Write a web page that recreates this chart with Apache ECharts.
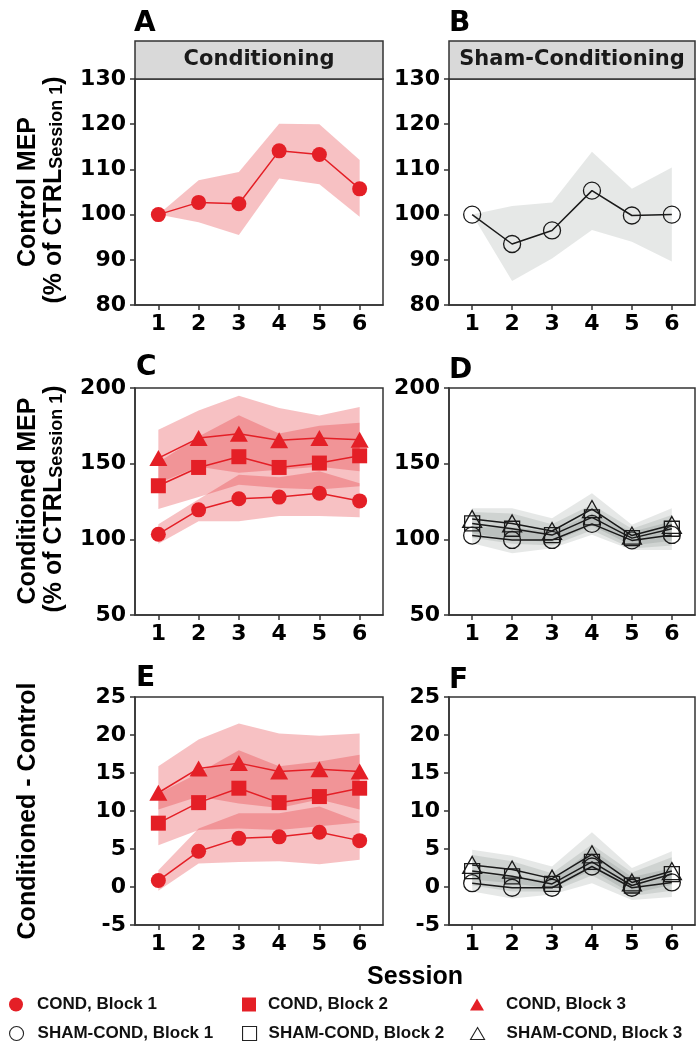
<!DOCTYPE html>
<html>
<head>
<meta charset="utf-8">
<script src="https://cdn.jsdelivr.net/npm/echarts@6.0.0/dist/echarts.min.js"></script>
<style>
html, body { margin: 0; padding: 0; background: #fff; }
#chart { width: 696px; height: 1046px; }
</style>
</head>
<body>
<div id="chart"></div>
<script>
// sessions on the x axis
const sessions = [1, 2, 3, 4, 5, 6];

// A: control MEP, conditioning
const condCtrl   = [100, 102.7, 102.4, 114.1, 113.3, 105.7];
const condCtrlLo = [100, 98.3, 95.5, 108.0, 106.7, 99.5];
const condCtrlHi = [100, 107.6, 109.4, 120.1, 120.0, 112.1];

// B: control MEP, sham
const shamCtrl   = [100, 93.5, 96.5, 105.3, 99.8, 100.0];
const shamCtrlLo = [100, 85.3, 90.3, 96.6, 94.0, 89.6];
const shamCtrlHi = [100, 101.9, 102.7, 113.9, 105.7, 110.4];

// C: conditioned MEP, conditioning (blocks 1-3)
const condMep1   = [103.4, 119.5, 126.8, 127.9, 130.5, 125.4];
const condMep1Lo = [97, 112, 112, 115.5, 115.5, 114.6];
const condMep1Hi = [110, 126.5, 142.7, 141, 145, 137];
const condMep2   = [135.4, 147.5, 154.6, 147.5, 150.4, 155.2];
const condMep2Lo = [120, 128, 136, 134, 133, 135];
const condMep2Hi = [151, 168, 182, 170, 175, 177];
const condMep3   = [153.7, 166.9, 169.8, 165.4, 166.9, 165.8];
const condMep3Lo = [137, 148, 144, 146, 148, 145];
const condMep3Hi = [172.4, 185.2, 194.9, 186.8, 181.9, 187.4];

// D: conditioned MEP, sham
const shamMep1   = [102.5, 99.6, 99.6, 110.2, 99.3, 102.9];
const shamMep1Lo = [97.4, 90.8, 94.1, 103, 93, 93];
const shamMep1Hi = [108, 108, 105, 117, 105, 112];
const shamMep2   = [110.5, 107, 102.8, 114.5, 100.8, 107];
const shamMep2Lo = [101, 97, 96, 106, 94, 96];
const shamMep2Hi = [118, 117, 110, 123, 107, 116];
const shamMep3   = [113.5, 110.5, 105.5, 120, 102.5, 109.5];
const shamMep3Lo = [104, 100, 98, 109, 96, 99];
const shamMep3Hi = [120.6, 120.6, 114, 130.5, 109.6, 120.6];

// E: conditioned - control, conditioning
const condDiff1   = [0.85, 4.7, 6.4, 6.6, 7.2, 6.1];
const condDiff1Lo = [-0.5, 3.1, 3.3, 3.4, 3.0, 3.6];
const condDiff1Hi = [2.2, 7.7, 9.7, 9.7, 10.6, 8.6];
const condDiff2   = [8.4, 11.1, 13.0, 11.1, 11.9, 13.0];
const condDiff2Lo = [5.5, 7.5, 7.7, 7.5, 8.0, 8.5];
const condDiff2Hi = [12.3, 15.0, 18.0, 15.9, 16.5, 17.4];
const condDiff3   = [12.4, 15.6, 16.3, 15.2, 15.5, 15.2];
const condDiff3Lo = [10.2, 11.9, 11.0, 10.4, 11.5, 10.2];
const condDiff3Hi = [15.9, 19.4, 21.5, 20.2, 19.9, 20.2];

// F: conditioned - control, sham
const shamDiff1   = [0.5, -0.1, -0.1, 2.7, -0.1, 0.6];
const shamDiff1Lo = [-0.6, -1.5, -1.0, 0.5, -1.7, -1.3];
const shamDiff1Hi = [1.8, 1.3, 0.9, 4.9, 1.3, 2.5];
const shamDiff2   = [2.1, 1.4, 0.4, 3.3, 0.2, 1.7];
const shamDiff2Lo = [0.2, -0.6, -0.6, 1.5, -1.2, -0.5];
const shamDiff2Hi = [4.2, 3.4, 1.8, 5.6, 1.9, 3.9];
const shamDiff3   = [2.9, 2.3, 1.1, 4.3, 0.6, 2.1];
const shamDiff3Lo = [1.0, 0.5, -0.2, 2.2, -0.9, 0.3];
const shamDiff3Hi = [4.9, 4.1, 2.7, 7.2, 2.5, 4.7];

// y ranges [min, max, step] per panel
const yRanges = [[80, 130, 10], [80, 130, 10], [50, 200, 50], [50, 200, 50], [-5, 25, 5], [-5, 25, 5]];

const RED = '#e41f26';
const RED_BAND = 'rgba(228,31,38,0.28)';
const INK = '#1a1a1a';
const GREY_BAND = 'rgba(30,45,38,0.11)';
const PANEL_FONT = 'DejaVu Sans';
const TITLE_FONT = 'Liberation Sans';

const grids = [
  { left: 135, top: 79, width: 248, height: 226 },
  { left: 449, top: 79, width: 246, height: 226 },
  { left: 135, top: 388, width: 248, height: 227 },
  { left: 449, top: 388, width: 246, height: 227 },
  { left: 135, top: 697, width: 248, height: 228 },
  { left: 449, top: 697, width: 246, height: 228 }
].map(g => Object.assign(g, { show: true, borderColor: '#333', borderWidth: 1.5 }));

const axisLine = { show: true, onZero: false, lineStyle: { color: '#333', width: 1.5 } };
const labelFont = { fontSize: 22, fontWeight: 'bold', fontFamily: PANEL_FONT, color: '#000' };

const xAxis = grids.map((g, i) => ({
  gridIndex: i, type: 'value', min: 0.42, max: 6.58,
  axisLine,
  axisTick: { show: true, customValues: sessions, length: 5, lineStyle: { color: '#333', width: 1.5 } },
  axisLabel: Object.assign({ customValues: sessions, margin: 8 }, labelFont),
  splitLine: { show: false }
}));

const yAxis = yRanges.map((r, i) => ({
  gridIndex: i, type: 'value', min: r[0], max: r[1], interval: r[2],
  axisLine,
  axisTick: { show: true, length: 5, lineStyle: { color: '#333', width: 1.5 } },
  axisLabel: Object.assign({ margin: 9 }, labelFont),
  splitLine: { show: false }
}));

function ribbon(idx, lo, hi, color) {
  return {
    type: 'custom', xAxisIndex: idx, yAxisIndex: idx, silent: true, z: 1,
    data: sessions.map((s, i) => [s, lo[i], hi[i]]),
    encode: { x: 0, y: [1, 2] },
    renderItem: function (params, api) {
      if (params.dataIndex !== 0) return;
      const pts = [];
      for (let i = 0; i < sessions.length; i++) pts.push(api.coord([sessions[i], hi[i]]));
      for (let i = sessions.length - 1; i >= 0; i--) pts.push(api.coord([sessions[i], lo[i]]));
      return { type: 'polygon', shape: { points: pts }, style: { fill: color } };
    }
  };
}

function meanLine(idx, name, values, symbol, size, open) {
  return {
    type: 'line', name: name, xAxisIndex: idx, yAxisIndex: idx, z: 3, silent: true,
    data: sessions.map((s, i) => [s, values[i]]),
    symbol: symbol, symbolSize: size, showAllSymbol: true,
    lineStyle: { color: open ? INK : RED, width: 1.5 },
    itemStyle: open ? { color: 'rgba(0,0,0,0)', borderColor: INK, borderWidth: 1.3 } : { color: RED }
  };
}

const series = [
  ribbon(0, condCtrlLo, condCtrlHi, RED_BAND),
  ribbon(1, shamCtrlLo, shamCtrlHi, GREY_BAND),
  ribbon(2, condMep1Lo, condMep1Hi, RED_BAND),
  ribbon(2, condMep2Lo, condMep2Hi, RED_BAND),
  ribbon(2, condMep3Lo, condMep3Hi, RED_BAND),
  ribbon(3, shamMep1Lo, shamMep1Hi, GREY_BAND),
  ribbon(3, shamMep2Lo, shamMep2Hi, GREY_BAND),
  ribbon(3, shamMep3Lo, shamMep3Hi, GREY_BAND),
  ribbon(4, condDiff1Lo, condDiff1Hi, RED_BAND),
  ribbon(4, condDiff2Lo, condDiff2Hi, RED_BAND),
  ribbon(4, condDiff3Lo, condDiff3Hi, RED_BAND),
  ribbon(5, shamDiff1Lo, shamDiff1Hi, GREY_BAND),
  ribbon(5, shamDiff2Lo, shamDiff2Hi, GREY_BAND),
  ribbon(5, shamDiff3Lo, shamDiff3Hi, GREY_BAND),

  meanLine(0, 'COND control', condCtrl, 'circle', 15, false),
  meanLine(1, 'SHAM control', shamCtrl, 'circle', 17, true),

  meanLine(2, 'COND, Block 1', condMep1, 'circle', 15, false),
  meanLine(2, 'COND, Block 2', condMep2, 'rect', 15, false),
  meanLine(2, 'COND, Block 3', condMep3, 'triangle', [18, 16], false),
  meanLine(3, 'SHAM-COND, Block 1', shamMep1, 'circle', 17, true),
  meanLine(3, 'SHAM-COND, Block 2', shamMep2, 'rect', 15, true),
  meanLine(3, 'SHAM-COND, Block 3', shamMep3, 'triangle', [19, 17], true),

  meanLine(4, 'COND, Block 1', condDiff1, 'circle', 15, false),
  meanLine(4, 'COND, Block 2', condDiff2, 'rect', 15, false),
  meanLine(4, 'COND, Block 3', condDiff3, 'triangle', [18, 16], false),
  meanLine(5, 'SHAM-COND, Block 1', shamDiff1, 'circle', 17, true),
  meanLine(5, 'SHAM-COND, Block 2', shamDiff2, 'rect', 15, true),
  meanLine(5, 'SHAM-COND, Block 3', shamDiff3, 'triangle', [19, 17], true)
];

// legend: two rows, three columns
const legendItems = [
  { name: 'COND, Block 1', icon: 'circle', left: 9, top: 996, pad: 9, open: false },
  { name: 'COND, Block 2', icon: 'rect', left: 242, top: 996, pad: 7, open: false },
  { name: 'COND, Block 3', icon: 'triangle', left: 470, top: 996, pad: 17, open: false },
  { name: 'SHAM-COND, Block 1', icon: 'circle', left: 9, top: 1025, pad: 9, open: true },
  { name: 'SHAM-COND, Block 2', icon: 'rect', left: 242, top: 1025, pad: 7, open: true },
  { name: 'SHAM-COND, Block 3', icon: 'triangle', left: 470, top: 1025, pad: 17, open: true }
];
const legend = legendItems.map(it => ({
  left: it.left, top: it.top, padding: 0, selectedMode: false,
  data: [it.name], icon: it.icon, itemWidth: 14, itemHeight: it.icon === 'triangle' ? 12 : 14,
  itemStyle: it.open ? { color: 'rgba(0,0,0,0)', borderColor: '#222', borderWidth: 1.1 } : { color: RED },
  textStyle: { fontFamily: TITLE_FONT, fontWeight: 'bold', fontSize: 17, color: '#111', padding: [0, 0, 0, it.pad] }
}));

function label(text, x, y, size, family, extra) {
  return {
    type: 'text', x: x, y: y, silent: true,
    style: Object.assign({ text: text, fontSize: size, fontWeight: 'bold', fontFamily: family, fill: '#000', verticalAlign: 'middle' }, extra || {})
  };
}
function yTitle(text, x, y) {
  return {
    type: 'text', x: x, y: y, rotation: Math.PI / 2, silent: true,
    style: {
      text: text, fontSize: 25, fontWeight: 'bold', fontFamily: TITLE_FONT, fill: '#000',
      align: 'center', verticalAlign: 'middle',
      rich: { sub: { fontSize: 18, fontWeight: 'bold', fontFamily: TITLE_FONT, fill: '#000', verticalAlign: 'bottom', lineHeight: 17 } }
    }
  };
}
function strip(g, text) {
  return [
    { type: 'rect', silent: true, shape: { x: g.left, y: 41, width: g.width, height: 38 },
      style: { fill: '#d9d9d9', stroke: '#333', lineWidth: 1.5 } },
    label(text, g.left + g.width / 2, 60, 21, PANEL_FONT, { align: 'center', fill: '#1a1a1a' })
  ];
}

const graphic = [].concat(
  strip(grids[0], 'Conditioning'),
  strip(grids[1], 'Sham-Conditioning'),
  [
    label('A', 134, 24, 28, PANEL_FONT),
    label('B', 449, 24, 28, PANEL_FONT),
    label('C', 136, 368, 28, PANEL_FONT),
    label('D', 449, 371, 28, PANEL_FONT),
    label('E', 136, 679, 28, PANEL_FONT),
    label('F', 449, 681, 28, PANEL_FONT),
    yTitle('Control MEP', 28, 192),
    yTitle('(% of CTRL{sub|Session 1})', 54, 190),
    yTitle('Conditioned MEP', 28, 501),
    yTitle('(% of CTRL{sub|Session 1})', 54, 499),
    yTitle('Conditioned - Control', 28, 811),
    label('Session', 415, 977, 25, TITLE_FONT, { align: 'center' })
  ]
);

const chart = echarts.init(document.getElementById('chart'));
chart.setOption({
  animation: false,
  backgroundColor: '#fff',
  textStyle: { fontFamily: PANEL_FONT },
  grid: grids,
  xAxis: xAxis,
  yAxis: yAxis,
  legend: legend,
  graphic: graphic,
  series: series
});
</script>
</body>
</html>
